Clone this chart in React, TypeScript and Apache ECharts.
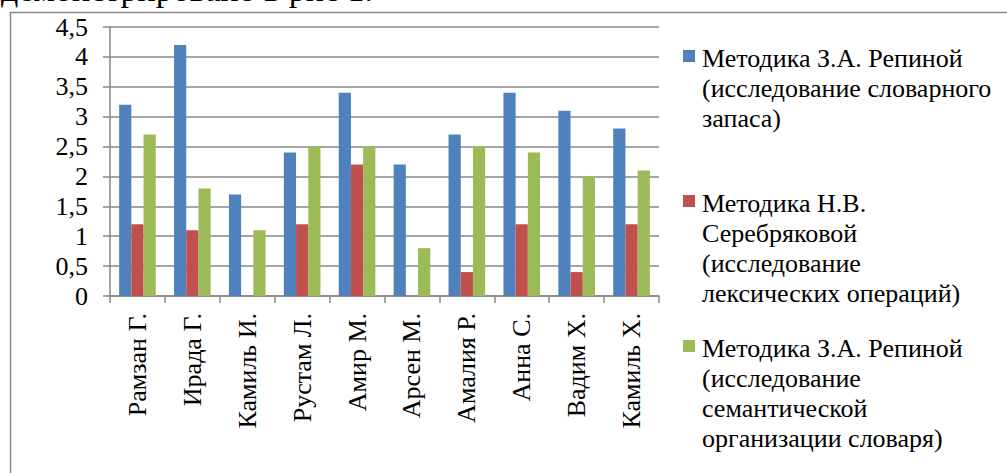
import React, { useEffect, useRef } from "react";
import * as echarts from "echarts";

// Pupils (x-axis categories)
const categories = [
  "Рамзан Г.",
  "Ирада Г.",
  "Камиль И.",
  "Рустам Л.",
  "Амир М.",
  "Арсен М.",
  "Амалия Р.",
  "Анна С.",
  "Вадим Х.",
  "Камиль Х.",
];

// Scores per method
const vocabularyScores = [3.2, 4.2, 1.7, 2.4, 3.4, 2.2, 2.7, 3.4, 3.1, 2.8];
const lexicalScores = [1.2, 1.1, 0, 1.2, 2.2, 0, 0.4, 1.2, 0.4, 1.2];
const semanticScores = [2.7, 1.8, 1.1, 2.5, 2.5, 0.8, 2.5, 2.4, 2.0, 2.1];

// Legend captions, one entry per line
const vocabularyLegend = ["Методика З.А. Репиной", "(исследование словарного", "запаса)"];
const lexicalLegend = ["Методика Н.В.", "Серебряковой", "(исследование", "лексических операций)"];
const semanticLegend = ["Методика З.А. Репиной", "(исследование", "семантической", "организации словаря)"];

const seriesColors = ["#4F81BD", "#C0504D", "#9BBB59"];
const yTicks = { min: 0, max: 4.5, interval: 0.5 };
const captionTail = "продемонстрировано в рис 1.";

const FONT = "Liberation Serif";
const GRID_COLOR = "#878787";

export default function App() {
  const ref = useRef<HTMLDivElement>(null);

  useEffect(() => {
    if (!ref.current) return;
    const chart = echarts.init(ref.current, undefined, { renderer: "svg" });

    const seriesData = [vocabularyScores, lexicalScores, semanticScores];
    const legends = [vocabularyLegend, lexicalLegend, semanticLegend];
    // top of each legend entry's text block
    const legendTops = [43, 188, 333];

    // legend texts are laid out as title blocks (serif, 30px line pitch)
    const legendTitles = legends.map((lines, i) => ({
      text: lines.join("\n"),
      left: 702,
      top: legendTops[i],
      padding: 0,
      textStyle: {
        fontFamily: FONT,
        fontSize: 26,
        fontWeight: "normal",
        lineHeight: 30,
        color: "#000",
      },
    }));

    const markers = legends.map((_, i) => ({
      type: "rect",
      left: 683,
      top: legendTops[i] + 7,
      shape: { width: 12, height: 12 },
      style: { fill: seriesColors[i] },
      silent: true,
    }));

    chart.setOption({
      animation: false,
      backgroundColor: "#fff",
      title: [
        {
          text: captionTail,
          right: 1007 - 373,
          top: -28,
          padding: 0,
          textStyle: {
            fontFamily: FONT,
            fontSize: 34,
            fontWeight: "normal",
            color: "#000",
          },
        },
        ...legendTitles,
      ],
      grid: { left: 110, top: 27, right: 348, bottom: 177, containLabel: false },
      xAxis: {
        type: "category",
        data: categories,
        axisLine: { show: true, lineStyle: { color: GRID_COLOR, width: 1.5 } },
        axisTick: { show: true, length: 7, lineStyle: { color: GRID_COLOR, width: 1.5 } },
        axisLabel: {
          interval: 0,
          rotate: 90,
          margin: 17,
          color: "#000",
          fontSize: 26,
          fontFamily: FONT,
        },
      },
      yAxis: {
        type: "value",
        min: yTicks.min,
        max: yTicks.max,
        interval: yTicks.interval,
        axisLine: { show: true, lineStyle: { color: GRID_COLOR, width: 1.5 } },
        axisTick: { show: true, length: 7, lineStyle: { color: GRID_COLOR, width: 1.5 } },
        splitLine: { show: true, lineStyle: { color: GRID_COLOR, width: 1.5 } },
        axisLabel: {
          margin: 22,
          color: "#000",
          fontSize: 26,
          fontFamily: FONT,
          formatter: (v: number) => String(v).replace(".", ","),
        },
      },
      series: seriesData.map((data, i) => ({
        type: "bar",
        name: legends[i].join(" "),
        data,
        barGap: "0%",
        barCategoryGap: "33.3%",
        itemStyle: { color: seriesColors[i] },
      })),
      graphic: [
        {
          type: "rect",
          left: 8,
          top: 10,
          shape: { width: 1100, height: 600 },
          style: { fill: "none", stroke: GRID_COLOR, lineWidth: 1.5 },
          silent: true,
        },
        ...markers,
      ],
    });

    return () => chart.dispose();
  }, []);

  return (
    <div
      ref={ref}
      style={{ position: "absolute", left: 0, top: 0, width: 1007, height: 473 }}
    />
  );
}
